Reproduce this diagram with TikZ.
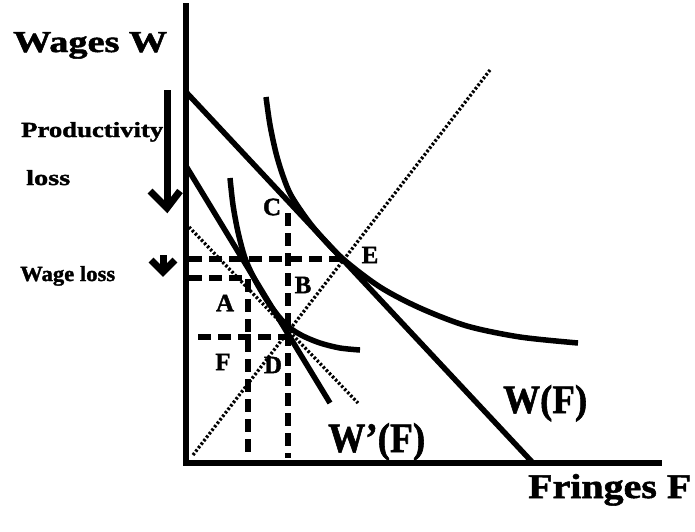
\documentclass[tikz,border=0pt]{standalone}
\usepackage{fontspec}
\setmainfont{Liberation Serif}
\newfontfamily\heavy[UprightFont=* Bold, FakeBold=1.5]{Liberation Serif}
\begin{document}
\begin{tikzpicture}[x=1pt,y=-1pt,
  axisline/.style={line width=6pt, line join=miter},
  budget/.style={line width=5.5pt},
  indiff/.style={line width=5.5pt},
  guide/.style={line width=6pt, dash pattern=on 13pt off 7pt},
  rayline/.style={line width=3.3pt, dash pattern=on 2.4pt off 2pt},
  ptlabel/.style={font=\fontsize{25}{25}\heavy, inner sep=0pt},
  txt/.style={anchor=base west, inner sep=0pt, font=\heavy},
  arrowpart/.style={line width=7pt, line join=miter}
]
\useasboundingbox (0,0) rectangle (695,531);

% axes
\coordinate (Ytop) at (186,3);
\coordinate (O) at (186,463);
\coordinate (Xend) at (662,463);
\draw[axisline] (Ytop) -- (O) -- (Xend);

% budget lines
\coordinate (WFa) at (186,92);
\coordinate (WFb) at (533,463);
\draw[budget] (WFa) -- (WFb);
\coordinate (WPa) at (186,166);
\coordinate (WPb) at (330,403);
\draw[budget] (WPa) -- (WPb);

% dotted lines
\coordinate (Pa) at (189,227);
\coordinate (Pb) at (358,403);
\draw[rayline] (Pa) -- (Pb);
\coordinate (Ra) at (193,455);
\coordinate (Rb) at (490,70);
\draw[rayline] (Ra) -- (Rb);

% indifference curves
\draw[indiff] plot[smooth, tension=0.5] coordinates {(266,97) (270,125) (276,153) (283,176) (292,197) (313,227) (342,258) (380,287) (420,308) (467,326) (520,337) (578,343)};
\draw[indiff] plot[smooth, tension=0.5] coordinates {(230,178) (233,205) (238,232) (245,258) (255,280) (268,302) (280,318) (290,328) (303,336) (320,343) (340,348) (360,350)};

% dashed guides
\coordinate (E) at (342,259);
\coordinate (h1) at (189,259);
\draw[guide] (h1) -- (E);
\coordinate (h2) at (189,278);
\coordinate (A1) at (248,278);
\coordinate (A2) at (248,458);
\draw[guide] (h2) -- (A1) -- (A2);
\coordinate (C1) at (288,213);
\coordinate (C2) at (288,458);
\draw[guide] (C1) -- (C2);
\coordinate (h3) at (198,337);
\coordinate (D1) at (288,337);
\draw[guide] (h3) -- (D1);

% point labels
\node[ptlabel] (Cl) at (272,207) {C};
\node[ptlabel] (El) at (370,255) {E};
\node[ptlabel] (Bl) at (303,285) {B};
\node[ptlabel] (Al) at (225,303) {A};
\node[ptlabel] (Fl) at (223,362) {F};
\node[ptlabel] (Dl) at (273,365) {D};

% texts
\node[txt] (wages) at (13,52) {\resizebox{154pt}{20pt}{Wages W}};
\node[txt] (prod) at (21,137) {\resizebox{142pt}{15pt}{Productivity}};
\node[txt] (loss) at (26,185) {\resizebox{44pt}{15pt}{loss}};
\node[txt] (wloss) at (20,281) {\resizebox{95pt}{15pt}{Wage loss}};
\node[txt] (fringes) at (528,498) {\resizebox{163pt}{24pt}{Fringes F}};
\node[txt] (wf) at (503,413) {\resizebox{84pt}{28pt}{W(F)}};
\node[txt] (wpf) at (328,452) {\resizebox{97pt}{29pt}{W’(F)}};

% arrows
\coordinate (pa1) at (167,90);
\coordinate (pa2) at (167,204);
\draw[arrowpart] (pa1) -- (pa2);
\draw[arrowpart] (150,191) -- (167,208) -- (180,191);
\coordinate (wa1) at (163,255);
\coordinate (wa2) at (163,270);
\draw[arrowpart] (wa1) -- (wa2);
\draw[arrowpart] (151,260) -- (163,272) -- (175,260);
\end{tikzpicture}
\end{document}
